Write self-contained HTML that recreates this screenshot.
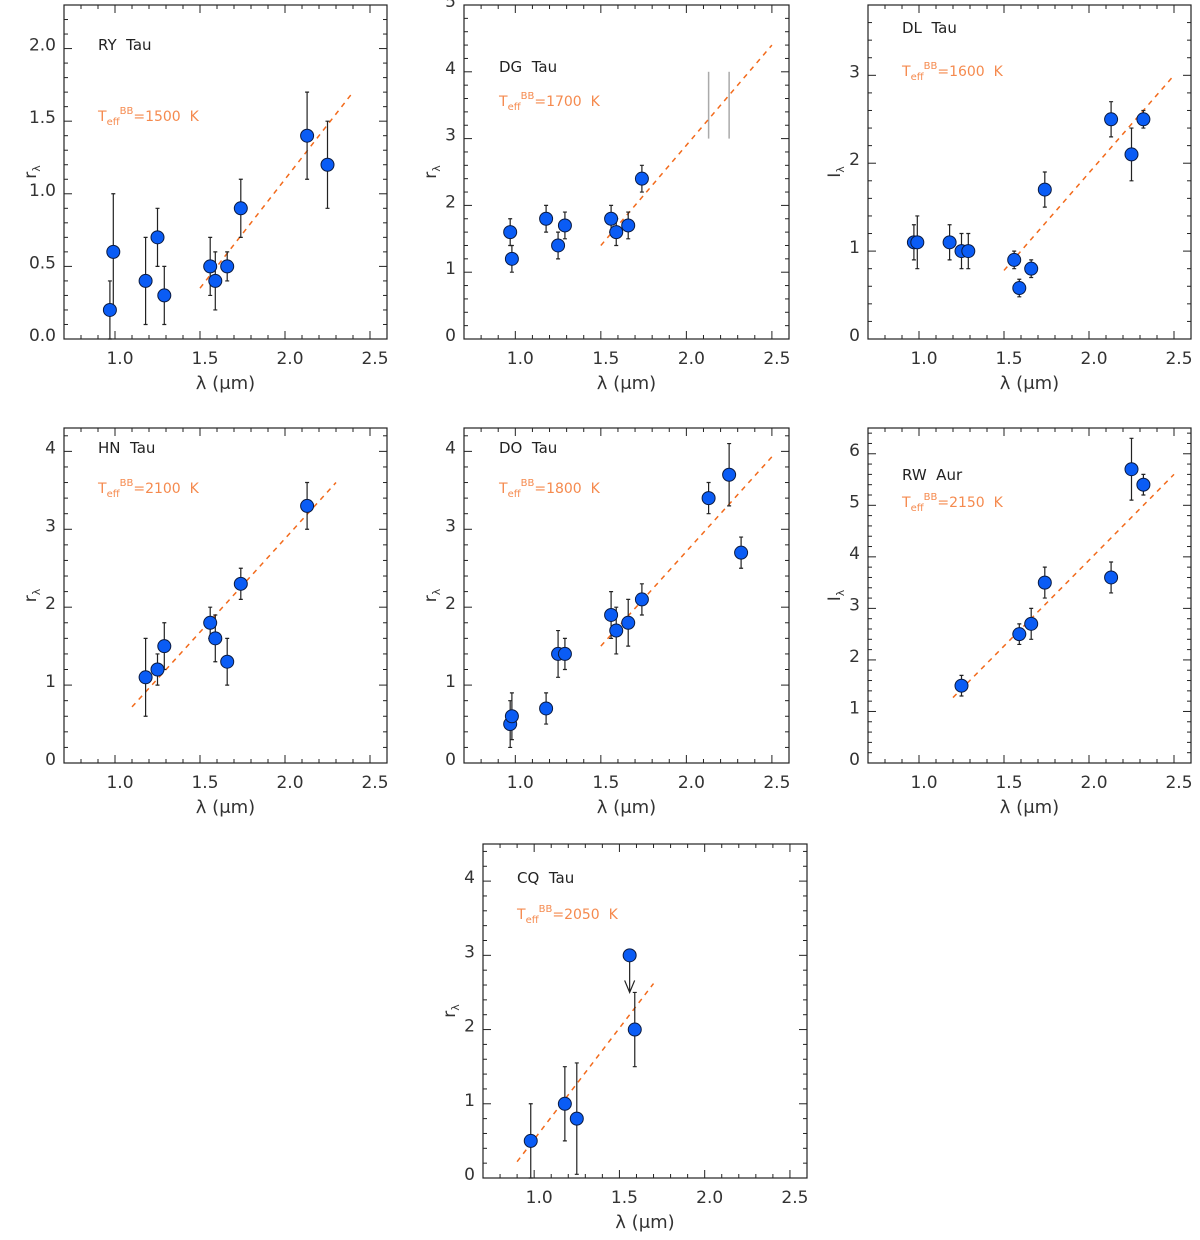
<!DOCTYPE html>
<html><head><meta charset="utf-8"><style>
html,body{margin:0;padding:0;background:#fff}
svg{display:block}
text{font-family:"DejaVu Sans","Liberation Sans",sans-serif}
</style></head><body>
<svg id="fig" width="1200" height="1240" xmlns="http://www.w3.org/2000/svg"></svg>
<script>
// ---- data ----
const panelNames = ["RY Tau","DG Tau","DL Tau","HN Tau","DO Tau","RW Aur","CQ Tau"];
const teffValues = [1500,1700,1600,2100,1800,2150,2050];
const yMaxValues = [2.3,5,3.8,4.3,4.3,6.5,4.5];
const yLabelText = ["r","r","I","r","r","I","r"];
const ryTauX = [0.97,0.99,1.18,1.25,1.29,1.56,1.59,1.66,1.74,2.13,2.25];
const ryTauY = [0.2,0.6,0.4,0.7,0.3,0.5,0.4,0.5,0.9,1.4,1.2];
const ryTauErr = [0.2,0.4,0.3,0.2,0.2,0.2,0.2,0.1,0.2,0.3,0.3];
const dgTauX = [0.97,0.98,1.18,1.25,1.29,1.56,1.59,1.66,1.74];
const dgTauY = [1.6,1.2,1.8,1.4,1.7,1.8,1.6,1.7,2.4];
const dgTauErr = [0.2,0.2,0.2,0.2,0.2,0.2,0.2,0.2,0.2];
const dlTauX = [0.97,0.99,1.18,1.25,1.29,1.56,1.59,1.66,1.74,2.13,2.25,2.32];
const dlTauY = [1.1,1.1,1.1,1.0,1.0,0.9,0.58,0.8,1.7,2.5,2.1,2.5];
const dlTauErr = [0.2,0.3,0.2,0.2,0.2,0.1,0.1,0.1,0.2,0.2,0.3,0.1];
const hnTauX = [1.18,1.25,1.29,1.56,1.59,1.66,1.74,2.13];
const hnTauY = [1.1,1.2,1.5,1.8,1.6,1.3,2.3,3.3];
const hnTauErr = [0.5,0.2,0.3,0.2,0.3,0.3,0.2,0.3];
const doTauX = [0.97,0.98,1.18,1.25,1.29,1.56,1.59,1.66,1.74,2.13,2.25,2.32];
const doTauY = [0.5,0.6,0.7,1.4,1.4,1.9,1.7,1.8,2.1,3.4,3.7,2.7];
const doTauErr = [0.3,0.3,0.2,0.3,0.2,0.3,0.3,0.3,0.2,0.2,0.4,0.2];
const rwAurX = [1.25,1.59,1.66,1.74,2.13,2.25,2.32];
const rwAurY = [1.5,2.5,2.7,3.5,3.6,5.7,5.4];
const rwAurErr = [0.2,0.2,0.3,0.3,0.3,0.6,0.2];
const cqTauX = [0.98,1.18,1.25,1.59];
const cqTauY = [0.5,1.0,0.8,2.0];
const cqTauErr = [0.5,0.5,0.75,0.5];
const cqLimitX = [1.56];
const cqLimitY = [3.0];
const cqLimitTo = [2.5];
const dgGrayX = [2.13,2.25];
const dgGrayLo = [3,3];
const dgGrayHi = [4,4];
const fitX1 = [1.5,1.5,1.5,1.1,1.5,1.2,0.9];
const fitY1 = [0.35,1.4,0.78,0.72,1.5,1.27,0.22];
const fitX2 = [2.4,2.5,2.5,2.3,2.5,2.5,1.7];
const fitY2 = [1.7,4.4,3.0,3.6,3.93,5.6,2.62];
const xTickLabels = ["1.0","1.5","2.0","2.5"];
const xTickValues = [1.0,1.5,2.0,2.5];

const seriesX = [ryTauX,dgTauX,dlTauX,hnTauX,doTauX,rwAurX,cqTauX];
const seriesY = [ryTauY,dgTauY,dlTauY,hnTauY,doTauY,rwAurY,cqTauY];
const seriesE = [ryTauErr,dgTauErr,dlTauErr,hnTauErr,doTauErr,rwAurErr,cqTauErr];

// ---- layout ----
const frames = [[64,5,387,339],[464,5,789,339],[868,5,1191,339],[64,428,387,763],[464,428,789,763],[868,428,1191,763],[483,844,807,1178]];
const namePos = [[98,44],[499,66],[902,27],[98,447],[499,447],[902,474],[517,877]];
const teffPos = [[98,115],[499,100],[902,70],[98,487],[499,487],[902,501],[517,913]];
const XMIN=0.7, XMAX=2.6;
const NS="http://www.w3.org/2000/svg";
const svg=document.getElementById('fig');
function mk(tag,attrs,parent){const e=document.createElementNS(NS,tag);for(const k in attrs)e.setAttribute(k,attrs[k]);(parent||svg).appendChild(e);return e;}

for(let p=0;p<7;p++){
  const [L,T,R,B]=frames[p];
  const ymax=yMaxValues[p];
  const sx=v=>L+(v-XMIN)/(XMAX-XMIN)*(R-L);
  const sy=v=>B-(v/ymax)*(B-T);
  const g=mk('g',{});
  
  
  const fr=mk('rect',{x:L,y:T,width:R-L,height:B-T,fill:'none',stroke:'#222','stroke-width':1.2},g);
  
  
  // x ticks
  for(let i=7;i<=26;i++){
    const v=i/10, x=sx(v), major=(i%5===0), len=major?8:4;
    mk('line',{x1:x,y1:B,x2:x,y2:B-len,stroke:'#222','stroke-width':1},g);
    mk('line',{x1:x,y1:T,x2:x,y2:T+len,stroke:'#222','stroke-width':1},g);
  }
  xTickLabels.forEach((lab,i)=>{
    const t=mk('text',{x:sx(xTickValues[i])+5,y:B+25,'font-size':17,'text-anchor':'middle',fill:'#333'},g);
    t.textContent=lab;
    
    
  });
  const xt=mk('text',{x:(L+R)/2,y:B+50,'font-size':18,'text-anchor':'middle',fill:'#333'},g);
  xt.textContent='λ (μm)';
  
  
  // y ticks
  const minor = p===0?0.1:0.2;
  const majorStep = p===0?0.5:1;
  const nMin=Math.floor(ymax/minor+1e-6);
  for(let i=0;i<=nMin;i++){
    const v=i*minor, y=sy(v);
    const major=Math.abs(v/majorStep-Math.round(v/majorStep))<1e-6, len=major?8:4;
    mk('line',{x1:L,y1:y,x2:L+len,y2:y,stroke:'#222','stroke-width':1},g);
    mk('line',{x1:R,y1:y,x2:R-len,y2:y,stroke:'#222','stroke-width':1},g);
    if(major){
      const t=mk('text',{x:L-8,y:y+2,'font-size':17,'text-anchor':'end',fill:'#333'},g);
      t.textContent = p===0? v.toFixed(1) : String(Math.round(v));
      
      
    }
  }
  const yt=mk('text',{x:0,y:0,'font-size':17,'text-anchor':'middle',fill:'#333',transform:`translate(${L-28},${(T+B)/2}) rotate(-90)`},g);
  yt.innerHTML=yLabelText[p]+'<tspan font-size="11" dy="4">λ</tspan>';
  
  
  // labels
  const nm=mk('text',{x:namePos[p][0],y:namePos[p][1]+6,'font-size':15,fill:'#222'},g);
  nm.textContent=panelNames[p].replace(' ','\u00a0\u00a0');
  
  
  const tf=mk('text',{x:teffPos[p][0],y:teffPos[p][1]+6,'font-size':14,fill:'#f58a4e'},g);
  tf.innerHTML='T<tspan font-size="10" dy="4">eff</tspan><tspan font-size="10" dy="-11">BB</tspan><tspan dy="7">='+teffValues[p]+'\u00a0\u00a0K</tspan>';
  
  
  // gray bars DG
  if(p===1){
    dgGrayX.forEach((gx,i)=>{
      const l=mk('line',{x1:sx(gx),y1:sy(dgGrayLo[i]),x2:sx(gx),y2:sy(dgGrayHi[i]),stroke:'#aaa','stroke-width':1.5},g);
      
      
    });
  }
  // fit line
  const fl=mk('line',{x1:sx(fitX1[p]),y1:sy(fitY1[p]),x2:sx(fitX2[p]),y2:sy(fitY2[p]),stroke:'#f26a1b','stroke-width':1.5,'stroke-dasharray':'5,5'},g);
  
  
  // error bars + points
  const xs=seriesX[p], ys=seriesY[p], es=seriesE[p];
  for(let i=0;i<xs.length;i++){
    const x=sx(xs[i]);
    const lo=Math.max(0,ys[i]-es[i]), hi=ys[i]+es[i];
    const eb=mk('path',{d:`M${x},${sy(lo)}V${sy(hi)}M${x-2},${sy(lo)}H${x+2}M${x-2},${sy(hi)}H${x+2}`,stroke:'#222','stroke-width':1.2,fill:'none'},g);
    
    
  }
  for(let i=0;i<xs.length;i++){
    const c=mk('circle',{cx:sx(xs[i]),cy:sy(ys[i]),r:6.5,fill:'#0a5cf5',stroke:'#0a1a40','stroke-width':1},g);
    
    
  }
  if(p===6){
    cqLimitX.forEach((lx,i)=>{
      const x=sx(lx), y1=sy(cqLimitY[i]), y2=sy(cqLimitTo[i]);
      const a=mk('path',{d:`M${x},${y1}V${y2}M${x-5},${y2-12}L${x},${y2}L${x+5},${y2-12}`,stroke:'#222','stroke-width':1.2,fill:'none'},g);
      
      
      const c=mk('circle',{cx:x,cy:y1,r:6.5,fill:'#0a5cf5',stroke:'#0a1a40','stroke-width':1},g);
      
      
    });
  }
}
</script>
</body></html>
